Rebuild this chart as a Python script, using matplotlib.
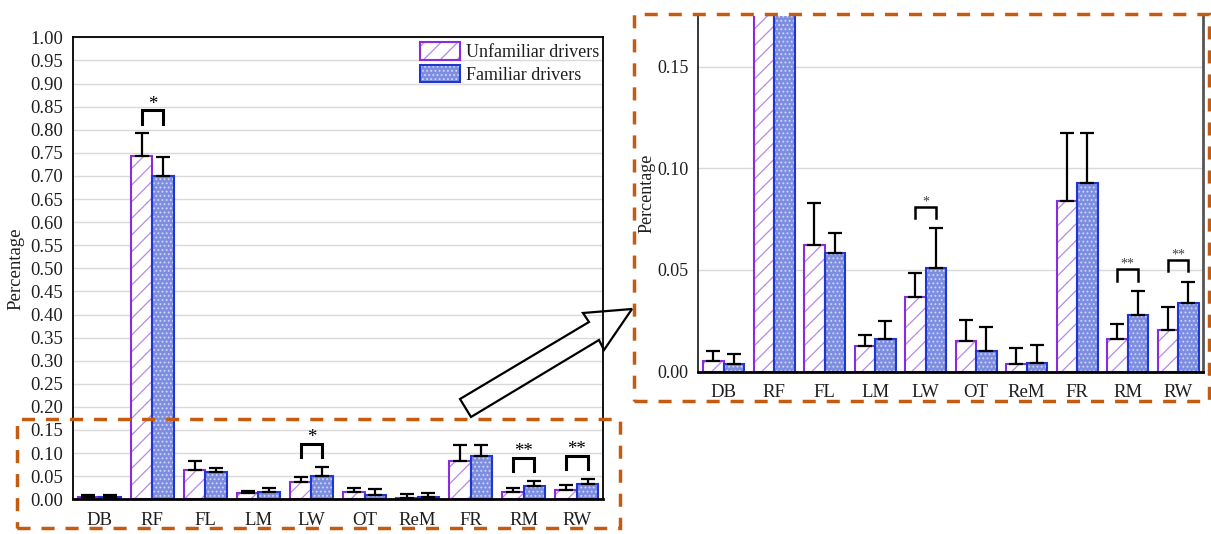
import matplotlib
matplotlib.use('Agg')
import matplotlib.pyplot as plt
from matplotlib.patches import Rectangle, Polygon, Patch
from matplotlib.ticker import FormatStrFormatter
import numpy as np

# ---------------- data ----------------
categories = ['DB', 'RF', 'FL', 'LM', 'LW', 'OT', 'ReM', 'FR', 'RM', 'RW']
series_names = ['Unfamiliar drivers', 'Familiar drivers']
unfamiliar = [0.0053, 0.743, 0.0625, 0.0126, 0.0368, 0.0151, 0.0038, 0.0838, 0.0159, 0.0205]
unfamiliar_err = [0.0050, 0.049, 0.0204, 0.0052, 0.0118, 0.0103, 0.0078, 0.0335, 0.0077, 0.0111]
familiar = [0.0039, 0.700, 0.0584, 0.0162, 0.0510, 0.0103, 0.0041, 0.0929, 0.0278, 0.0339]
familiar_err = [0.0046, 0.0416, 0.0097, 0.0085, 0.0194, 0.0116, 0.0090, 0.0244, 0.0120, 0.0104]
sig_categories = ['RF', 'LW', 'RM', 'RW']
sig_labels = ['*', '*', '**', '**']
ylabel = 'Percentage'

# ---------------- style ----------------
plt.rcParams['font.family'] = ['Liberation Serif', 'DejaVu Serif']
plt.rcParams['lines.scale_dashes'] = False
plt.rcParams['hatch.linewidth'] = 0.9

UNF_EDGE = '#8a2be2'
UNF_HATCH = '#b58ae8'
FAM_FILL = '#7d8ee0'
FAM_EDGE = '#1f36d1'
FAM_DOT = (1, 1, 1, 0.55)
ORANGE = '#c55a11'
TXT = '#1e1e1e'

fig = plt.figure(figsize=(12.11, 5.34), dpi=100)
axL = fig.add_axes([72.7 / 1211, 1 - 499.3 / 534, (603.3 - 72.7) / 1211, (499.3 - 37.3) / 534])
axR = fig.add_axes([698.3 / 1211, 1 - 371.7 / 534, (1203.3 - 698.3) / 1211, (371.7 - 15.7) / 534])

x = np.arange(len(categories))
w = 0.405
unf = np.array(unfamiliar)
fam = np.array(familiar)
unf_e = np.array(unfamiliar_err)
fam_e = np.array(familiar_err)


def draw_bars(ax, lw_err, cap, ysize, xsize):
    xu = x - w / 2
    xf = x + w / 2
    ax.bar(xu, unf, w, color='white', lw=0, zorder=2)
    ax.bar(xu, unf, w, facecolor='none', edgecolor=UNF_HATCH, hatch='//', lw=0, zorder=2.1)
    ax.bar(xu, unf, w, facecolor='none', edgecolor=UNF_EDGE, lw=1.5, zorder=2.2)
    ax.bar(xf, fam, w, color=FAM_FILL, lw=0, zorder=2)
    ax.bar(xf, fam, w, facecolor='none', edgecolor=FAM_DOT, hatch='....', lw=0, zorder=2.1)
    ax.bar(xf, fam, w, facecolor='none', edgecolor=FAM_EDGE, lw=1.5, zorder=2.2)
    ax.errorbar(xu, unf, yerr=[np.zeros_like(unf), unf_e], fmt='none', ecolor='black',
                elinewidth=lw_err, capsize=cap, capthick=lw_err, zorder=3)
    ax.errorbar(xf, fam, yerr=[np.zeros_like(fam), fam_e], fmt='none', ecolor='black',
                elinewidth=lw_err, capsize=cap, capthick=lw_err, zorder=3)
    ax.set_xlim(-0.5, len(categories) - 0.5)
    ax.set_xticks(x)
    ax.set_xticklabels(categories)
    ax.yaxis.set_major_formatter(FormatStrFormatter('%.2f'))
    ax.yaxis.grid(True, color='#d9d9d9', lw=1)
    ax.set_axisbelow(True)
    ax.tick_params(length=0, colors=TXT)
    ax.tick_params(axis='y', pad=7, labelsize=ysize)
    ax.tick_params(axis='x', pad=9, labelsize=xsize)


def draw_brackets(ax, ymax, lo_off, hi_off, lw, star_size, star_color):
    for cat, lab in zip(sig_categories, sig_labels):
        i = categories.index(cat)
        top = max(unf[i] + unf_e[i], fam[i] + fam_e[i])
        b = top + lo_off
        t = top + hi_off
        if t > ymax:
            continue
        x0, x1 = i - w / 2, i + w / 2
        ax.plot([x0, x0, x1, x1], [b, t, t, b], color='black', lw=lw,
                solid_joinstyle='miter', zorder=4)
        ax.annotate(lab, (i, t), xytext=(0, 1), textcoords='offset points',
                    ha='center', va='baseline', fontsize=star_size, color=star_color, zorder=4)


# ---- left (full) chart ----
draw_bars(axL, 1.6, 5, 13.4, 13.5)
axL.set_ylim(0, 1.0)
axL.set_yticks(np.arange(0, 1.0001, 0.05))
for s in ['left', 'top', 'right']:
    axL.spines[s].set_linewidth(1.3)
    axL.spines[s].set_color('black')
axL.spines['bottom'].set_linewidth(2)
axL.set_ylabel(ylabel, fontsize=13.5, color=TXT)
axL.yaxis.set_label_coords(-0.09, 0.5)
draw_brackets(axL, 1.0, 0.021, 0.05, 2.2, 13.5, 'black')

handles = [
    (Patch(facecolor='white', lw=0),
     Patch(facecolor='none', edgecolor=UNF_HATCH, hatch='//', lw=0),
     Patch(facecolor='none', edgecolor=UNF_EDGE, lw=1.5)),
    (Patch(facecolor=FAM_FILL, lw=0),
     Patch(facecolor='none', edgecolor=FAM_DOT, hatch='....', lw=0),
     Patch(facecolor='none', edgecolor=FAM_EDGE, lw=1.5)),
]
axL.legend(handles, series_names, loc='upper right', bbox_to_anchor=(1.0, 1.0),
           frameon=False, fontsize=13, handlelength=2.2, handleheight=1.15,
           handletextpad=0.3, labelspacing=0.2, borderpad=0.25, borderaxespad=0,
           labelcolor=TXT)

# ---- right (zoomed) chart ----
draw_bars(axR, 1.6, 5, 13, 13.5)
axR.set_ylim(0, 0.175)
axR.set_yticks([0, 0.05, 0.10, 0.15])
axR.spines['top'].set_visible(False)
axR.spines['left'].set_linewidth(1.1)
axR.spines['left'].set_color('black')
axR.spines['right'].set_linewidth(2)
axR.spines['right'].set_color('#555555')
axR.spines['bottom'].set_linewidth(2)
axR.spines['bottom'].set_color('black')
axR.set_ylabel(ylabel, fontsize=13, color=TXT)
axR.yaxis.set_label_coords(-0.085, 0.5)
draw_brackets(axR, 0.175, 0.005, 0.0105, 1.8, 10, '#404040')

# ---- orange dashed boxes ----
dash = (0, (9.4, 7.9))
fig.add_artist(Rectangle((17 / 1211, 1 - 528 / 534), (620 - 17) / 1211, (528 - 419) / 534,
                         transform=fig.transFigure, fill=False, edgecolor=ORANGE,
                         lw=2.5, linestyle=dash))
fig.add_artist(Rectangle((634 / 1211, 1 - 401 / 534), (1209 - 634) / 1211, (401 - 14) / 534,
                         transform=fig.transFigure, fill=False, edgecolor=ORANGE,
                         lw=2.5, linestyle=dash))

# ---- outline arrow ----
pts_px = [(460, 399), (589, 322), (583, 313), (632, 309), (604, 350), (599, 340), (471, 417)]
pts = [(px / 1211, 1 - py / 534) for px, py in pts_px]
fig.add_artist(Polygon(pts, closed=True, transform=fig.transFigure, facecolor='none',
                       edgecolor='black', lw=1.6, joinstyle='miter'))

fig.savefig('out.png', dpi=100)
